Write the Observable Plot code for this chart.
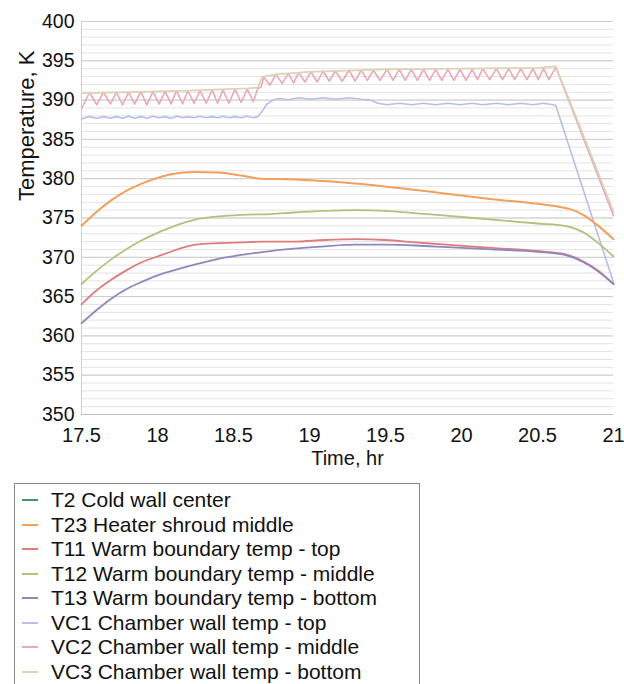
<!DOCTYPE html>
<html>
<head>
<meta charset="utf-8">
<script src="https://cdn.jsdelivr.net/npm/d3@7"></script>
<script src="https://cdn.jsdelivr.net/npm/@observablehq/plot@0.6"></script>
<style>
  body { margin: 0; background: #fff; font-family: "Liberation Sans", Arial, sans-serif; }
  #chart svg { display: block; }
  #legend {
    margin-left: 14px; margin-top: 8px; width: 406px; border: 1px solid #8a8a8a;
    padding: 4px 0 0 0; box-sizing: border-box; height: 260px;
  }
  .item { display: flex; align-items: center; height: 24.5px; font-size: 21px; color: #111; white-space: nowrap; }
  .sw { width: 16px; height: 2px; margin-left: 7px; margin-right: 13px; }
</style>
</head>
<body>
<div id="chart"></div>
<div id="legend"></div>
<script>
// ---- data ----
const seriesNames = [
  "T2 Cold wall center",
  "T23 Heater shroud middle",
  "T11 Warm boundary temp - top",
  "T12 Warm boundary temp - middle",
  "T13 Warm boundary temp - bottom",
  "VC1 Chamber wall temp - top",
  "VC2 Chamber wall temp - middle",
  "VC3 Chamber wall temp - bottom"
];
const seriesColors = ["#3d9a5e", "#f2a05a", "#e07c7a", "#adc47e", "#8f87bd", "#b7bfe6", "#eaa8b8", "#dcd3b4"];

const xTicks = [17.5, 18, 18.5, 19, 19.5, 20, 20.5, 21];
const yTicks = [350, 355, 360, 365, 370, 375, 380, 385, 390, 395, 400];
const yMinor = d3.range(350, 401, 1);

// T23 Heater shroud middle
const t23Time = [17.5, 17.6, 17.7, 17.8, 17.9, 18.0, 18.1, 18.25, 18.4, 18.55, 18.68, 18.8, 19.0, 19.3, 19.6, 19.9, 20.2, 20.5, 20.65, 20.72, 20.8, 20.9, 21.0];
const t23Temp = [374.0, 375.8, 377.3, 378.5, 379.4, 380.1, 380.6, 380.85, 380.8, 380.4, 380.0, 379.95, 379.8, 379.4, 378.8, 378.1, 377.4, 376.8, 376.4, 376.1, 375.4, 374.0, 372.3];

// T12 Warm boundary temp - middle
const t12Time = [17.5, 17.6, 17.7, 17.8, 17.9, 18.0, 18.1, 18.25, 18.4, 18.55, 18.75, 18.9, 19.1, 19.3, 19.5, 19.7, 19.9, 20.2, 20.5, 20.68, 20.8, 20.9, 21.0];
const t12Temp = [366.6, 368.3, 369.8, 371.1, 372.2, 373.1, 373.9, 374.8, 375.2, 375.4, 375.5, 375.7, 375.9, 376.0, 375.9, 375.6, 375.3, 374.8, 374.3, 374.0, 373.2, 371.8, 370.1];

// T11 Warm boundary temp - top
const t11Time = [17.5, 17.6, 17.7, 17.8, 17.9, 18.0, 18.1, 18.25, 18.4, 18.55, 18.7, 18.9, 19.1, 19.3, 19.5, 19.7, 19.9, 20.2, 20.5, 20.68, 20.8, 20.9, 21.0];
const t11Temp = [364.0, 365.8, 367.2, 368.4, 369.4, 370.1, 370.8, 371.6, 371.8, 371.9, 372.0, 372.0, 372.2, 372.3, 372.2, 371.9, 371.6, 371.2, 370.8, 370.4, 369.5, 368.3, 366.6];

// T13 Warm boundary temp - bottom
const t13Time = [17.5, 17.6, 17.7, 17.8, 17.9, 18.0, 18.1, 18.25, 18.4, 18.55, 18.7, 18.9, 19.1, 19.3, 19.5, 19.7, 19.9, 20.2, 20.5, 20.68, 20.8, 20.9, 21.0];
const t13Temp = [361.6, 363.3, 364.8, 366.0, 366.9, 367.7, 368.3, 369.1, 369.8, 370.3, 370.7, 371.1, 371.4, 371.6, 371.6, 371.5, 371.3, 371.0, 370.7, 370.3, 369.4, 368.2, 366.6];

// VC1 Chamber wall temp - top
const vc1Time = [17.5, 17.55, 17.6, 17.65, 17.69, 17.73, 17.77, 17.81, 17.85, 17.89, 17.93, 17.97, 18.01, 18.05, 18.09, 18.13, 18.17, 18.2, 18.24, 18.28, 18.32, 18.36, 18.4, 18.43, 18.47, 18.51, 18.55, 18.59, 18.63, 18.66, 18.69, 18.72, 18.76, 18.8, 18.86, 18.93, 19.01, 19.09, 19.17, 19.26, 19.34, 19.4, 19.45, 19.51, 19.59, 19.67, 19.75, 19.83, 19.91, 19.99, 20.07, 20.14, 20.23, 20.31, 20.39, 20.47, 20.54, 20.6, 20.62, 21.0];
const vc1Temp = [387.6, 387.9, 387.7, 387.9, 387.7, 387.9, 387.7, 387.95, 387.7, 387.9, 387.7, 387.95, 387.75, 387.9, 387.7, 387.95, 387.75, 387.9, 387.75, 387.95, 387.75, 387.9, 387.75, 387.95, 387.75, 387.9, 387.75, 387.95, 387.75, 387.9, 388.6, 389.5, 390.0, 390.2, 390.05, 390.3, 390.1, 390.3, 390.1, 390.3, 390.1, 390.0, 389.6, 389.4, 389.6, 389.4, 389.6, 389.4, 389.6, 389.4, 389.6, 389.4, 389.6, 389.4, 389.6, 389.4, 389.6, 389.4, 389.3, 366.8];

// VC2 Chamber wall temp - middle (cycling)
const vc2Time = [17.5, 17.553, 17.6, 17.645, 17.69, 17.73, 17.77, 17.81, 17.85, 17.89, 17.93, 17.97, 18.01, 18.05, 18.09, 18.125, 18.165, 18.2, 18.24, 18.28, 18.32, 18.36, 18.395, 18.43, 18.47, 18.51, 18.55, 18.59, 18.63, 18.66,
  18.68, 18.70, 18.74, 18.78, 18.82, 18.86, 18.895, 18.93, 18.97, 19.01, 19.05, 19.09, 19.13, 19.17, 19.215, 19.26, 19.30, 19.34, 19.38, 19.42, 19.465, 19.51, 19.55, 19.59, 19.63, 19.67, 19.71, 19.75, 19.79, 19.83, 19.87, 19.91, 19.95, 19.99, 20.03, 20.07, 20.105, 20.14, 20.185, 20.23, 20.27, 20.31, 20.35, 20.39, 20.43, 20.47, 20.505, 20.54, 20.575, 20.62, 21.0];
const vc2Temp = [388.9, 391.0, 389.4, 391.0, 389.5, 391.0, 389.4, 391.0, 389.5, 391.1, 389.4, 391.1, 389.5, 391.1, 389.5, 391.2, 389.5, 391.2, 389.6, 391.2, 389.6, 391.3, 389.6, 391.3, 389.6, 391.4, 389.7, 391.4, 389.8, 391.5,
  391.6, 392.9, 391.9, 393.3, 392.1, 393.4, 392.2, 393.5, 392.3, 393.6, 392.3, 393.7, 392.4, 393.7, 392.4, 393.8, 392.4, 393.8, 392.5, 393.8, 392.5, 393.9, 392.5, 393.9, 392.5, 393.9, 392.5, 393.9, 392.5, 393.9, 392.5, 393.9, 392.5, 393.9, 392.5, 393.9, 392.6, 394.0, 392.6, 394.0, 392.6, 394.0, 392.6, 394.0, 392.6, 394.0, 392.6, 394.0, 392.6, 394.2, 375.3];

// VC3 Chamber wall temp - bottom
const vc3Time = [17.5, 17.8, 18.2, 18.6, 18.66, 18.69, 18.8, 19.0, 19.5, 20.0, 20.5, 20.62, 20.8, 21.0];
const vc3Temp = [390.9, 391.0, 391.2, 391.5, 391.6, 393.0, 393.3, 393.6, 393.9, 394.0, 394.1, 394.3, 385.6, 375.8];

// ---- build tables ----
const toRows = (ts, vs) => ts.map((t, i) => ({t, v: vs[i]}));
const smooth = [
  {rows: toRows(t23Time, t23Temp), color: seriesColors[1], w: 2},
  {rows: toRows(t12Time, t12Temp), color: seriesColors[3], w: 1.8},
  {rows: toRows(t11Time, t11Temp), color: seriesColors[2], w: 1.8},
  {rows: toRows(t13Time, t13Temp), color: seriesColors[4], w: 1.8}
];
const rough = [
  {rows: toRows(vc1Time, vc1Temp), color: seriesColors[5], w: 1.6},
  {rows: toRows(vc2Time, vc2Temp), color: seriesColors[6], w: 1.6},
  {rows: toRows(vc3Time, vc3Temp), color: seriesColors[7], w: 1.8}
];

const chart = Plot.plot({
  width: 624,
  height: 475,
  marginLeft: 81,
  marginRight: 11,
  marginTop: 21,
  marginBottom: 61,
  style: {fontFamily: "'Liberation Sans', Arial, sans-serif", color: "#111", background: "#fff"},
  x: {domain: [17.5, 21]},
  y: {domain: [350, 400]},
  marks: [
    Plot.ruleY(yMinor, {stroke: "#e3e3e3", strokeWidth: 1}),
    Plot.ruleY(yTicks, {stroke: "#cdcdcd", strokeWidth: 1}),
    Plot.ruleX([17.5], {stroke: "#cfcfcf"}),
    Plot.ruleY([350], {stroke: "#bdbdbd"}),
    Plot.axisY({ticks: yTicks, tickSize: 0, tickPadding: 7, fontSize: 19.5, label: null}),
    Plot.axisX({ticks: xTicks, tickSize: 0, tickPadding: 13, fontSize: 20, label: null, tickFormat: d => String(d)}),
    Plot.text(["Time, hr"], {text: d => d, frameAnchor: "bottom", dy: 50, fontSize: 20}),
    Plot.text(["Temperature, K"], {text: d => d, frameAnchor: "left", dx: -55, dy: -17, rotate: -90, fontSize: 22}),
    ...rough.map(s => Plot.line(s.rows, {x: "t", y: "v", stroke: s.color, strokeWidth: s.w, curve: "linear"})),
    ...smooth.map(s => Plot.line(s.rows, {x: "t", y: "v", stroke: s.color, strokeWidth: s.w, curve: "monotone-x"}))
  ]
});
document.getElementById("chart").appendChild(chart);

// ---- legend ----
const legend = document.getElementById("legend");
seriesNames.forEach((name, i) => {
  const item = document.createElement("div");
  item.className = "item";
  const sw = document.createElement("span");
  sw.className = "sw";
  sw.style.background = seriesColors[i];
  const label = document.createElement("span");
  label.textContent = name;
  item.appendChild(sw);
  item.appendChild(label);
  legend.appendChild(item);
});
</script>
</body>
</html>
